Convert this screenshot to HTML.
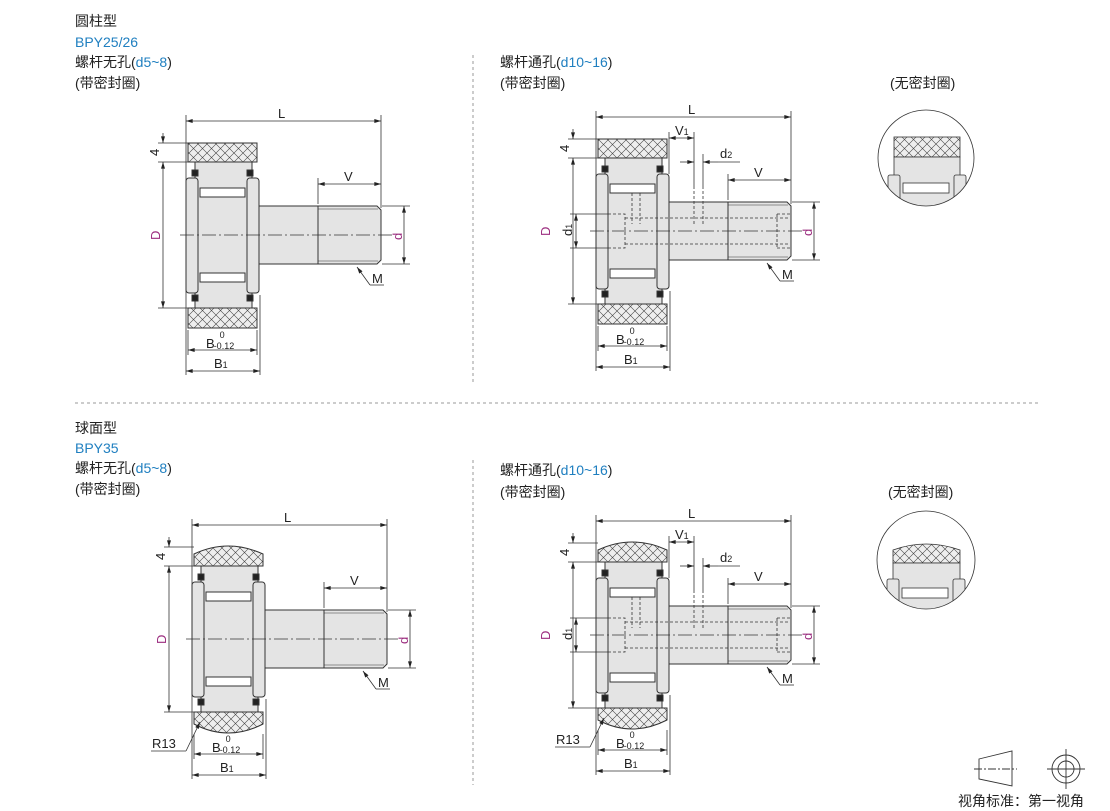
<!DOCTYPE html>
<html><head><meta charset="utf-8"><style>
html,body{margin:0;padding:0;background:#fff;}
svg{display:block;}
text{font-family:"Liberation Sans","Noto Sans CJK SC",sans-serif;fill:#222;}
.t{font-size:14px;}
.b{fill:#1f7fc0;}
.m{fill:#9b2d7f;}
.dl{font-size:13px;}
</style></head><body>
<svg width="1110" height="811" viewBox="0 0 1110 811" xmlns="http://www.w3.org/2000/svg">
<defs>
<pattern id="h" width="9" height="9" patternUnits="userSpaceOnUse">
<rect width="9" height="9" fill="#eee"/>
<path d="M0,0L9,9M9,0L0,9" stroke="#444" stroke-width="0.6"/>
</pattern>
<marker id="a" viewBox="0 0 10 6" refX="10" refY="3" markerWidth="9" markerHeight="5" orient="auto-start-reverse">
<path d="M0,0L10,3L0,6z" fill="#222"/></marker>

<g id="body" stroke="#333" stroke-width="1">
<rect x="195" y="162" width="57" height="146" fill="#e4e4e4"/>
<rect x="186" y="178" width="12" height="115" rx="3" fill="#e4e4e4"/>
<rect x="247" y="178" width="12" height="115" rx="3" fill="#e4e4e4"/>
<rect x="200" y="188" width="45" height="9" fill="#fff"/>
<rect x="200" y="273" width="45" height="9" fill="#fff"/>
<rect x="192" y="170" width="6" height="6" fill="#222"/>
<rect x="247" y="170" width="6" height="6" fill="#222"/>
<rect x="192" y="295" width="6" height="6" fill="#222"/>
<rect x="247" y="295" width="6" height="6" fill="#222"/>
<rect x="259" y="206" width="60" height="58" fill="#e4e4e4"/>
<path d="M318,206H377L381,210V260L377,264H318Z" fill="#e4e4e4"/>
<line x1="318" y1="209" x2="378" y2="209" stroke-width="0.5"/>
<line x1="318" y1="261" x2="378" y2="261" stroke-width="0.5"/>
</g>
<g id="tireC" stroke="#333" stroke-width="1">
<rect x="188" y="143" width="69" height="19" fill="url(#h)"/>
<rect x="188" y="308" width="69" height="20" fill="url(#h)"/>
</g>
<g id="tireS" stroke="#333" stroke-width="1">
<path d="M188,162V150Q222,134 257,150V162Z" fill="url(#h)"/>
<path d="M188,308V320Q222,338 257,320V308Z" fill="url(#h)"/>
</g>
<g id="dims" stroke="#333" stroke-width="0.8" fill="none">
<line x1="180" y1="235" x2="392" y2="235" stroke-dasharray="14,3,2,3"/>
<line x1="186" y1="115" x2="186" y2="375"/>
<line x1="381" y1="115" x2="381" y2="208"/>
<line x1="186" y1="121" x2="381" y2="121" marker-start="url(#a)" marker-end="url(#a)"/>
<line x1="158" y1="143" x2="188" y2="143"/>
<line x1="158" y1="162" x2="188" y2="162"/>
<line x1="158" y1="308" x2="188" y2="308"/>
<line x1="163" y1="133" x2="163" y2="143" marker-end="url(#a)"/>
<line x1="163" y1="162" x2="163" y2="308" marker-start="url(#a)" marker-end="url(#a)"/>
<line x1="318" y1="178" x2="318" y2="204"/>
<line x1="318" y1="184" x2="381" y2="184" marker-start="url(#a)" marker-end="url(#a)"/>
<line x1="382" y1="206" x2="410" y2="206"/>
<line x1="382" y1="264" x2="410" y2="264"/>
<line x1="404" y1="206" x2="404" y2="264" marker-start="url(#a)" marker-end="url(#a)"/>
<path d="M370,285L357,267" marker-end="url(#a)"/>
<line x1="370" y1="285" x2="384" y2="285"/>
<line x1="188" y1="330" x2="188" y2="355"/>
<line x1="257" y1="330" x2="257" y2="355"/>
<line x1="260" y1="295" x2="260" y2="375"/>
<line x1="188" y1="350" x2="257" y2="350" marker-start="url(#a)" marker-end="url(#a)"/>
<line x1="186" y1="371" x2="260" y2="371" marker-start="url(#a)" marker-end="url(#a)"/>
</g>
<g id="holes" stroke="#333" stroke-width="0.8" fill="none" stroke-dasharray="3,2">
<path d="M198,218H215V252H198"/>
<path d="M215,222H380M215,248H380"/>
<path d="M367,218H381M367,252H381M367,218V252"/>
<path d="M222,197V228M230,197V228"/>
<path d="M284,190V228M293,190V228"/>
</g>
<g id="extra" stroke="#333" stroke-width="0.8" fill="none">
<line x1="160" y1="218" x2="198" y2="218"/>
<line x1="160" y1="252" x2="198" y2="252"/>
<line x1="166" y1="218" x2="166" y2="252" marker-start="url(#a)" marker-end="url(#a)"/>
<line x1="259" y1="136" x2="259" y2="178"/>
<line x1="284" y1="136" x2="284" y2="190"/>
<line x1="293" y1="158" x2="293" y2="190"/>
<line x1="259" y1="142" x2="284" y2="142" marker-start="url(#a)" marker-end="url(#a)"/>
<line x1="270" y1="166" x2="284" y2="166" marker-end="url(#a)"/>
<line x1="308" y1="166" x2="293" y2="166" marker-end="url(#a)"/>
<line x1="308" y1="166" x2="330" y2="166"/>
</g>
</defs>

<g stroke="#999" stroke-width="1" stroke-dasharray="3,3">
<line x1="473" y1="55" x2="473" y2="383"/>
<line x1="75" y1="403" x2="1040" y2="403"/>
<line x1="473" y1="460" x2="473" y2="785"/>
</g>

<text class="t" x="75" y="26">圆柱型</text>
<text class="t b" x="75" y="47">BPY25/26</text>
<text class="t" x="75" y="67">螺杆无孔(<tspan class="b">d5~8</tspan>)</text>
<text class="t" x="75" y="88">(带密封圈)</text>
<text class="t" x="500" y="67">螺杆通孔(<tspan class="b">d10~16</tspan>)</text>
<text class="t" x="500" y="88">(带密封圈)</text>
<text class="t" x="890" y="88">(无密封圈)</text>
<text class="t" x="75" y="433">球面型</text>
<text class="t b" x="75" y="453">BPY35</text>
<text class="t" x="75" y="473">螺杆无孔(<tspan class="b">d5~8</tspan>)</text>
<text class="t" x="75" y="494">(带密封圈)</text>
<text class="t" x="500" y="475">螺杆通孔(<tspan class="b">d10~16</tspan>)</text>
<text class="t" x="500" y="497">(带密封圈)</text>
<text class="t" x="888" y="497">(无密封圈)</text>

<g>
<use href="#tireC"/><use href="#body"/><use href="#dims"/>
<text class="dl" x="278" y="118">L</text>
<text class="dl" x="344" y="181">V</text>
<text class="dl" x="372" y="283">M</text>
<text class="dl" x="159" y="156" transform="rotate(-90 159 156)">4</text>
<text class="dl m" x="160" y="240" transform="rotate(-90 160 240)">D</text>
<text class="dl m" x="402" y="240" transform="rotate(-90 402 240)">d</text>
<text class="dl" x="206" y="348">B<tspan font-size="9" dy="-10" dx="5">0</tspan><tspan font-size="9" dx="-11" dy="11">-0.12</tspan></text>
<text class="dl" x="214" y="368">B<tspan font-size="9">1</tspan></text>
</g>
<g transform="translate(410,-4)">
<use href="#tireC"/><use href="#body"/><use href="#holes"/><use href="#dims"/><use href="#extra"/>
<text class="dl" x="278" y="118">L</text>
<text class="dl" x="344" y="181">V</text>
<text class="dl" x="372" y="283">M</text>
<text class="dl" x="265" y="139">V<tspan font-size="9">1</tspan></text>
<text class="dl" x="310" y="162">d<tspan font-size="9">2</tspan></text>
<text class="dl" x="162" y="240" transform="rotate(-90 162 240)">d<tspan font-size="9">1</tspan></text>
<text class="dl" x="159" y="156" transform="rotate(-90 159 156)">4</text>
<text class="dl m" x="140" y="240" transform="rotate(-90 140 240)">D</text>
<text class="dl m" x="402" y="240" transform="rotate(-90 402 240)">d</text>
<text class="dl" x="206" y="348">B<tspan font-size="9" dy="-10" dx="5">0</tspan><tspan font-size="9" dx="-11" dy="11">-0.12</tspan></text>
<text class="dl" x="214" y="368">B<tspan font-size="9">1</tspan></text>
</g>
<g transform="translate(6,404)">
<use href="#tireS"/><use href="#body"/><use href="#dims"/>
<line x1="180" y1="347" x2="194" y2="318" stroke="#333" stroke-width="0.8" marker-end="url(#a)"/>
<line x1="145" y1="347" x2="180" y2="347" stroke="#333" stroke-width="0.8"/>
<text class="dl" x="146" y="344">R13</text>
<text class="dl" x="278" y="118">L</text>
<text class="dl" x="344" y="181">V</text>
<text class="dl" x="372" y="283">M</text>
<text class="dl" x="159" y="156" transform="rotate(-90 159 156)">4</text>
<text class="dl m" x="160" y="240" transform="rotate(-90 160 240)">D</text>
<text class="dl m" x="402" y="240" transform="rotate(-90 402 240)">d</text>
<text class="dl" x="206" y="348">B<tspan font-size="9" dy="-10" dx="5">0</tspan><tspan font-size="9" dx="-11" dy="11">-0.12</tspan></text>
<text class="dl" x="214" y="368">B<tspan font-size="9">1</tspan></text>
</g>
<g transform="translate(410,400)">
<use href="#tireS"/><use href="#body"/><use href="#holes"/><use href="#dims"/><use href="#extra"/>
<line x1="180" y1="347" x2="194" y2="318" stroke="#333" stroke-width="0.8" marker-end="url(#a)"/>
<line x1="145" y1="347" x2="180" y2="347" stroke="#333" stroke-width="0.8"/>
<text class="dl" x="146" y="344">R13</text>
<text class="dl" x="278" y="118">L</text>
<text class="dl" x="344" y="181">V</text>
<text class="dl" x="372" y="283">M</text>
<text class="dl" x="265" y="139">V<tspan font-size="9">1</tspan></text>
<text class="dl" x="310" y="162">d<tspan font-size="9">2</tspan></text>
<text class="dl" x="162" y="240" transform="rotate(-90 162 240)">d<tspan font-size="9">1</tspan></text>
<text class="dl" x="159" y="156" transform="rotate(-90 159 156)">4</text>
<text class="dl m" x="140" y="240" transform="rotate(-90 140 240)">D</text>
<text class="dl m" x="402" y="240" transform="rotate(-90 402 240)">d</text>
<text class="dl" x="206" y="348">B<tspan font-size="9" dy="-10" dx="5">0</tspan><tspan font-size="9" dx="-11" dy="11">-0.12</tspan></text>
<text class="dl" x="214" y="368">B<tspan font-size="9">1</tspan></text>
</g>

<clipPath id="c1"><circle cx="926" cy="158" r="48"/></clipPath>
<clipPath id="c2"><circle cx="926" cy="560" r="49"/></clipPath>
<g clip-path="url(#c1)" stroke="#333" stroke-width="0.8">
<rect x="894" y="137" width="66" height="20" fill="url(#h)"/>
<rect x="894" y="157" width="66" height="60" fill="#e4e4e4"/>
<rect x="888" y="175" width="12" height="50" rx="2" fill="#e4e4e4"/>
<rect x="954" y="175" width="12" height="50" rx="2" fill="#e4e4e4"/>
<rect x="903" y="183" width="46" height="10" fill="#fff"/>
</g>
<circle cx="926" cy="158" r="48" fill="none" stroke="#333" stroke-width="0.8"/>
<g clip-path="url(#c2)" stroke="#333" stroke-width="0.8">
<path d="M893,563V550Q926,538 960,550V563Z" fill="url(#h)"/>
<rect x="893" y="563" width="67" height="60" fill="#e4e4e4"/>
<rect x="887" y="579" width="12" height="50" rx="2" fill="#e4e4e4"/>
<rect x="953" y="579" width="12" height="50" rx="2" fill="#e4e4e4"/>
<rect x="902" y="588" width="46" height="10" fill="#fff"/>
</g>
<circle cx="926" cy="560" r="49" fill="none" stroke="#333" stroke-width="0.8"/>

<g stroke="#333" stroke-width="0.9" fill="none">
<path d="M979,759L1012,751V786L979,779Z"/>
<line x1="974" y1="769" x2="1017" y2="769" stroke-dasharray="8,2,2,2"/>
<circle cx="1066" cy="769" r="14"/>
<circle cx="1066" cy="769" r="8"/>
<line x1="1047" y1="769" x2="1085" y2="769"/>
<line x1="1066" y1="749" x2="1066" y2="789"/>
</g>
<text x="958" y="806" style="font-size:14px">视角标准：第一视角</text>
</svg>
</body></html>
